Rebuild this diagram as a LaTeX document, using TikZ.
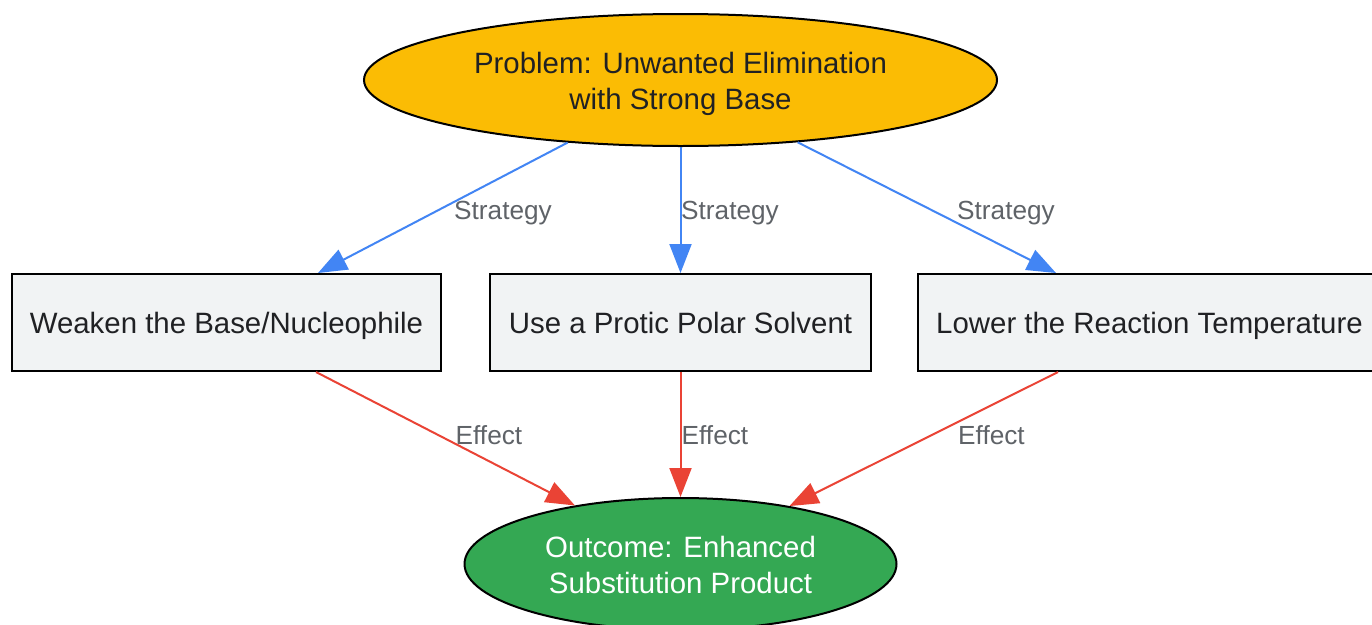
\documentclass[tikz,border=0pt]{standalone}
\usepackage{fontspec}
\setmainfont{Liberation Sans}
\usetikzlibrary{shapes.geometric,arrows.meta}
\definecolor{yel}{HTML}{FBBC04}
\definecolor{grn}{HTML}{34A853}
\definecolor{boxf}{HTML}{F1F3F4}
\definecolor{txt}{HTML}{202124}
\definecolor{lbl}{HTML}{5F6368}
\definecolor{blu}{HTML}{4285F4}
\definecolor{rd}{HTML}{EA4335}
\tikzset{
  bigtext/.style={font=\fontsize{29.4}{36}\selectfont, align=center},
  oval/.style={ellipse, draw=black, line width=2pt, inner sep=0pt, bigtext, text height=58pt, text depth=0pt},
  stepbox/.style={rectangle, draw=black, line width=2pt, fill=boxf, text=txt, minimum height=97pt, inner sep=0pt, bigtext, text height=23pt, text depth=2pt},
  lab/.style={font=\fontsize{26.2}{30}\selectfont, text=lbl, inner sep=0pt, anchor=base west},
  bluearrow/.style={draw=blu, line width=2pt, -{Triangle[length=29pt,width=22pt]}},
  redarrow/.style={draw=rd, line width=2pt, -{Triangle[length=29pt,width=22pt]}}
}
\begin{document}
\begin{tikzpicture}[x=1pt,y=-1pt]
\clip (0,0) rectangle (1372,624);
\fill[white] (0,0) rectangle (1372,624);
\node[oval, fill=yel, text=txt, minimum width=633pt, minimum height=132pt] (top) at (680.5,80) {Problem: Unwanted Elimination\\with Strong Base};
\node[stepbox, minimum width=429pt] (b1) at (226.5,322.5) {Weaken the Base/Nucleophile};
\node[stepbox, minimum width=381pt] (b2) at (680.5,322.5) {Use a Protic Polar Solvent};
\node[stepbox, minimum width=463pt] (b3) at (1149.5,322.5) {Lower the Reaction Temperature};
\node[oval, fill=grn, text=white, minimum width=432pt, minimum height=132pt] (bot) at (680.5,564) {Outcome: Enhanced\\Substitution Product};
\draw[bluearrow] (top.-151.2) -- ([xshift=91.5pt]b1.north);
\draw[bluearrow] (top.south) -- (b2.north);
\draw[bluearrow] (top.-28.8) -- ([xshift=-93.5pt]b3.north);
\draw[redarrow] ([xshift=89.5pt]b1.south) -- (bot.151.1);
\draw[redarrow] (b2.south) -- (bot.north);
\draw[redarrow] ([xshift=-91.5pt]b3.south) -- (bot.28.9);
\node[lab] (s1) at (454,219.5) {Strategy};
\node[lab] (s2) at (681,219.5) {Strategy};
\node[lab] (s3) at (957,219.5) {Strategy};
\node[lab] (f1) at (455.5,444.3) {Effect};
\node[lab] (f2) at (681.5,444.3) {Effect};
\node[lab] (f3) at (958,444.3) {Effect};
\end{tikzpicture}
\end{document}
